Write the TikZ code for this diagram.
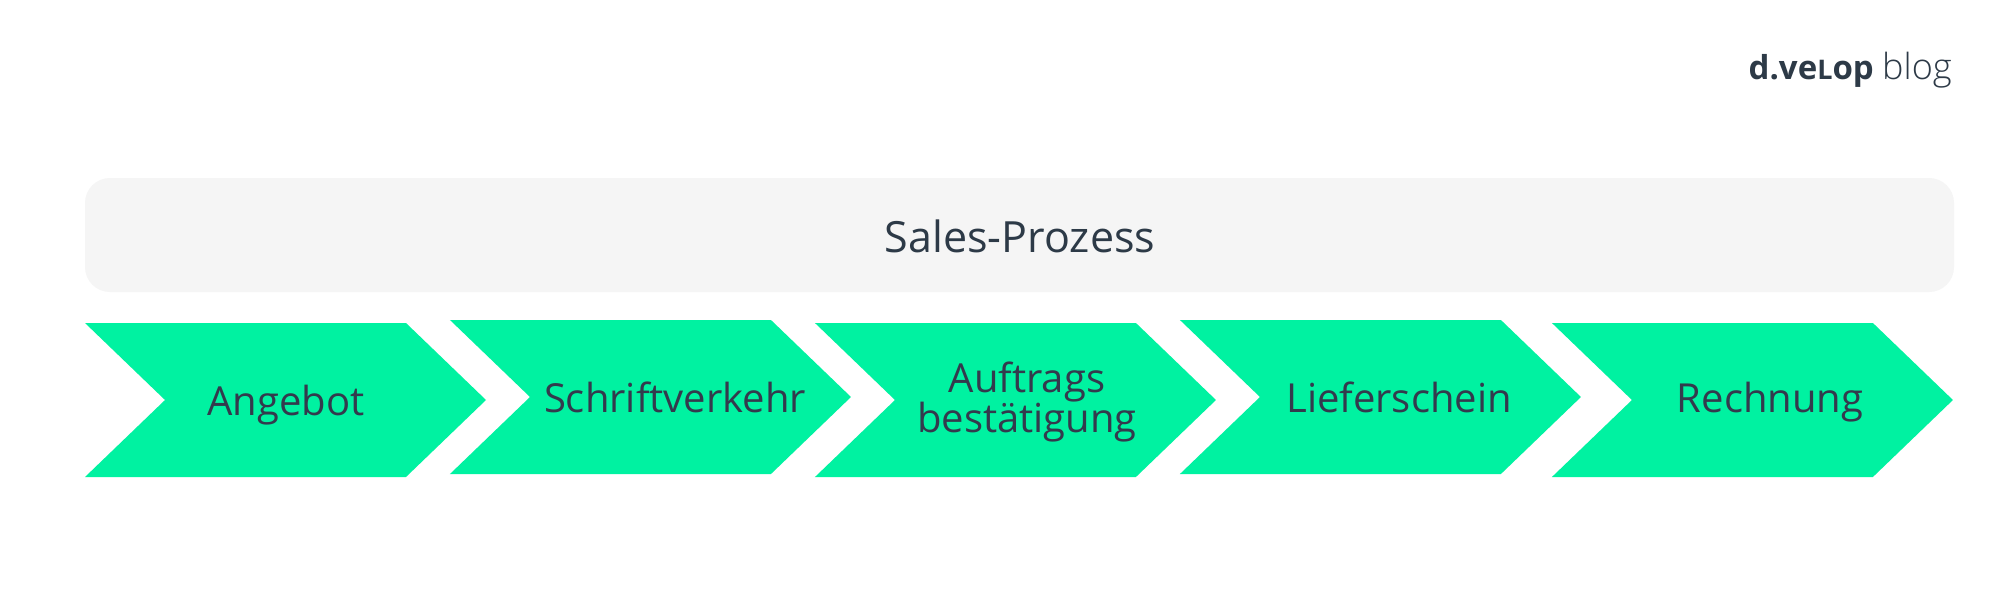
\documentclass[tikz,border=0pt]{standalone}
\usepackage{fontspec}
\setmainfont{Open Sans}
\newfontfamily\logolight{Open Sans Light}
\usetikzlibrary{positioning,shapes.symbols}

\definecolor{stepgreen}{HTML}{00F2A1}
\definecolor{headgray}{HTML}{F5F5F5}
\definecolor{labelink}{HTML}{333A4D}
\definecolor{logoink}{HTML}{2D3A47}

\tikzset{
    chevron/.style={signal, signal to=east, signal from=west, signal pointer angle=87.8,
        minimum width=401pt, minimum height=154pt, inner sep=0pt, outer sep=0pt, fill=stepgreen},
    steplabel/.style={anchor=base, inner sep=0pt, align=center, text=labelink,
        font=\fontsize{40}{40}\selectfont},
}

\begin{document}
\begin{tikzpicture}[x=1pt, y=-1pt]
\path[use as bounding box, fill=white] (0,0) rectangle (2005,607);

\node [fill=headgray, rounded corners=25pt, minimum width=1869pt, minimum height=114pt,
    inner sep=0pt] (head) at (1019.5,235) {};
\node [steplabel, text=logoink, font=\fontsize{43}{40}\selectfont] (headtext) at (1020,252) {Sales-Prozess};

\node [chevron] (angebot) at (285.5,400) {};
\node [chevron, right=44pt of angebot, yshift=3pt] (schrift) {};
\node [chevron, right=44pt of schrift, yshift=-3pt] (auftrag) {};
\node [chevron, right=44pt of auftrag, yshift=3pt] (liefer) {};
\node [chevron, right=51pt of liefer, yshift=-3pt] (rechnung) {};

\node [steplabel] (angebottext) at (286,415) {Angebot};
\node [steplabel] (schrifttext) at (675,412) {Schriftverkehr};
\node [steplabel] (auftragtext) at (1027,432) {Auftrags\\bestätigung};
\node [steplabel] (liefertext) at (1399,412) {Lieferschein};
\node [steplabel] (rechnungtext) at (1770,412) {Rechnung};

% logo
\node [anchor=base east, inner sep=0pt, text=logoink, font=\fontsize{33}{40}\selectfont\bfseries]
    (logo) at (1874,80) {d.ve{\fontsize{27}{30}\selectfont L}op};
\node [anchor=base west, inner sep=0pt, text=logoink, font=\fontsize{36}{40}\logolight]
    (blog) at (1882,80) {blog};
\end{tikzpicture}
\end{document}
